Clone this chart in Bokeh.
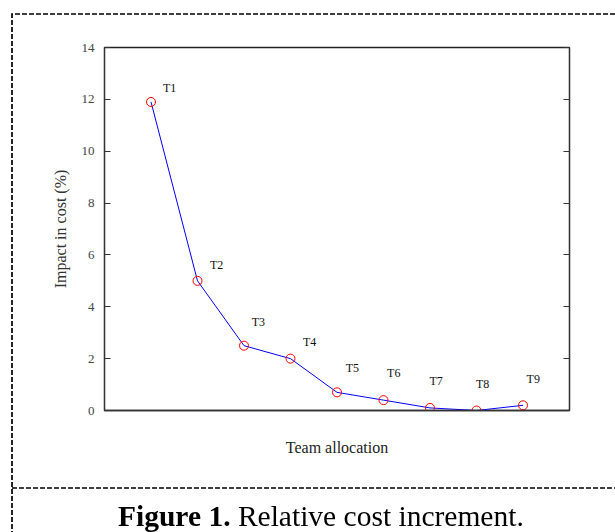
from bokeh.plotting import figure
from bokeh.models import (ColumnDataSource, LinearAxis, FixedTicker, Range1d, Div,
                          CustomJSTickFormatter)
from bokeh.layouts import column
from bokeh.embed import file_html
from bokeh.resources import INLINE
from bokeh.core.properties import value

# ---- data ----
teams = ["T1", "T2", "T3", "T4", "T5", "T6", "T7", "T8", "T9"]
team_index = [1, 2, 3, 4, 5, 6, 7, 8, 9]
impact = [11.9, 5.0, 2.5, 2.0, 0.7, 0.4, 0.1, 0.0, 0.2]
label_x = [1.40, 2.41, 3.31, 4.41, 5.33, 6.22, 7.13, 8.13, 9.22]
label_y = [12.45, 5.61, 3.41, 2.64, 1.65, 1.44, 1.13, 1.01, 1.20]
y_ticks = [0, 2, 4, 6, 8, 10, 12, 14]
caption_bold = "Figure 1."
caption_rest = "Relative cost increment."

SERIF = "Liberation Serif"

src = ColumnDataSource(dict(team_index=team_index, impact=impact))
lab = ColumnDataSource(dict(label_x=label_x, label_y=label_y, teams=teams))

p = figure(frame_width=465, frame_height=363,
           min_border_left=104, min_border_right=46, min_border_top=47, min_border_bottom=78,
           x_range=Range1d(0, 10), y_range=Range1d(0, 14),
           output_backend="svg", toolbar_location=None,
           background_fill_color="white", border_fill_color="white")
p.grid.visible = False
p.outline_line_color = "#222222"
p.outline_line_width = 1.5

# left axis
ya = p.yaxis[0]
ya.ticker = FixedTicker(ticks=y_ticks)
ya.major_tick_in = 6
ya.major_tick_out = 0
ya.minor_tick_in = 0
ya.minor_tick_out = 0
ya.major_label_standoff = 10
ya.axis_line_color = "#333333"
ya.major_tick_line_color = "#333333"
ya.major_label_text_font = SERIF
ya.major_label_text_font_size = "13px"
ya.major_label_text_color = "#444444"
ya.axis_label = "Impact in cost (%)"
ya.axis_label_text_font = SERIF
ya.axis_label_text_font_style = "normal"
ya.axis_label_text_font_size = "16px"
ya.axis_label_text_color = "#333333"
ya.axis_label_standoff = 10

# right axis (ticks only)
ra = LinearAxis(ticker=FixedTicker(ticks=y_ticks),
                formatter=CustomJSTickFormatter(code="return ''"),
                major_tick_in=6, major_tick_out=0, minor_tick_in=0, minor_tick_out=0,
                axis_line_color="#333333", major_tick_line_color="#333333")
p.add_layout(ra, "right")

# bottom axis (label only)
xa = p.xaxis[0]
xa.ticker = FixedTicker(ticks=[])
xa.major_tick_in = 0
xa.major_tick_out = 0
xa.minor_tick_in = 0
xa.minor_tick_out = 0
xa.axis_line_color = "#333333"
xa.axis_line_width = 1.5
xa.axis_label = "Team allocation"
xa.axis_label_text_font = SERIF
xa.axis_label_text_font_style = "normal"
xa.axis_label_text_font_size = "16px"
xa.axis_label_text_color = "#222222"
xa.axis_label_standoff = 28

# data
p.line(x="team_index", y="impact", source=src, line_color="#0000ff", line_width=1)
p.scatter(x="team_index", y="impact", source=src, marker="circle", size=9,
          fill_color=None, line_color="#ff0000", line_width=1)
p.text(x="label_x", y="label_y", text="teams", source=lab,
       text_font=value(SERIF), text_font_size="12px", text_color="#111111",
       text_align="center", text_baseline="middle")

# caption area with the dashed box of the figure
frame_svg = (
    '<svg style="position:fixed; left:0; top:0; pointer-events:none" width="615" height="532">'
    '<path d="M12 620 V14 H700 M12 488 H700" fill="none" stroke="#000" '
    'stroke-width="1.7" stroke-dasharray="5 2"/></svg>'
)
caption_html = (
    '<div style="position:fixed; left:118px; top:502px; white-space:nowrap; '
    "font-family:'Liberation Serif', serif; font-size:29.5px; line-height:29px; color:#000\">"
    f'<b>{caption_bold}</b> {caption_rest}</div>'
)
cap = Div(text=frame_svg + caption_html, width=615, height=44)

layout = column(p, cap, spacing=0)
open("out.html", "w").write(file_html(layout, INLINE))
